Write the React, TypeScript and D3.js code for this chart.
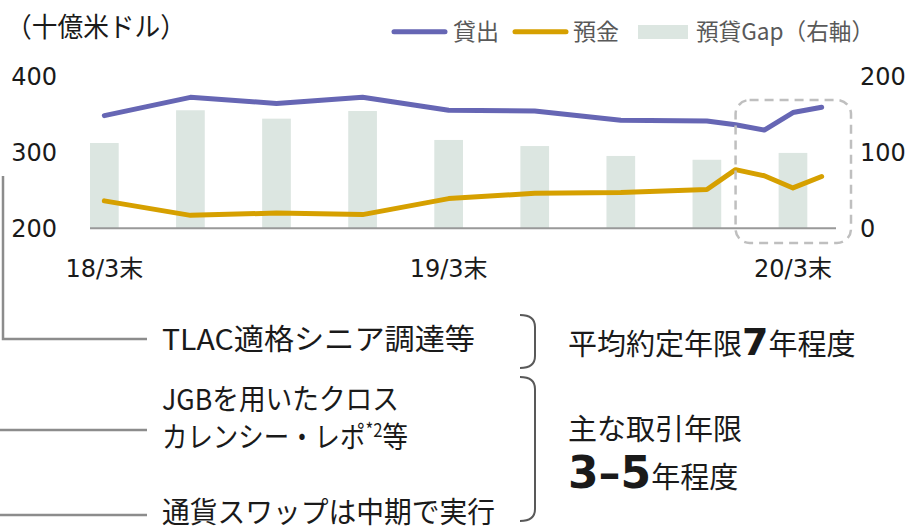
import React from 'react';
import * as d3 from 'd3';

// monthly category axis (18/3末 .. 20/4末)
const months = [
  "18/3", "18/4", "18/5", "18/6", "18/7", "18/8", "18/9", "18/10", "18/11", "18/12",
  "19/1", "19/2", "19/3", "19/4", "19/5", "19/6", "19/7", "19/8", "19/9", "19/10",
  "19/11", "19/12", "20/1", "20/2", "20/3", "20/4",
];

// line series (十億米ドル, left axis)
const lineMonths = ["18/3", "18/6", "18/9", "18/12", "19/3", "19/6", "19/9", "19/12", "20/1", "20/2", "20/3", "20/4"];
const loans = [348, 372, 364, 372, 355, 354, 342, 341, 336, 329, 352, 359];
const deposits = [236, 217, 220, 218, 239, 246, 247, 251, 277, 269, 253, 268];

// gap bars (right axis)
const gapMonths = ["18/3", "18/6", "18/9", "18/12", "19/3", "19/6", "19/9", "19/12", "20/3"];
const gaps = [112, 155, 144, 154, 116, 108, 95, 90, 99];

const leftTicks = [200, 300, 400];
const rightTicks = [0, 100, 200];
const xTickLabels = ["18/3", "19/3", "20/3"];

const W = 906;
const H = 530;
const LOAN = "#6666b4";
const DEPO = "#d6a000";
const GAP = "#dce6e1";
const JP = "'Noto Sans CJK JP', sans-serif";
const NUM = "'DejaVu Sans', 'Noto Sans CJK JP', sans-serif";
const INK = "#1a1a1a";

export default function App() {
  const x = d3.scaleBand<string>().domain(months).range([90, 836]);
  const bw = x.bandwidth();
  const yL = d3.scaleLinear().domain([200, 400]).range([228.3, 76]);
  const yR = d3.scaleLinear().domain([0, 200]).range([228.3, 76]);
  const cx = (m: string) => (x(m) ?? 0) + bw / 2;

  const line = d3
    .line<number>()
    .x((_, i) => cx(lineMonths[i]))
    .y((d) => yL(d));

  // dashed highlight box around the recent months
  const boxL = cx("20/1");
  const boxR = (x("20/4") ?? 0) + bw + 15;

  const brace = (top: number, bottom: number) =>
    `M520,${top} Q535,${top} 535,${top + 12} L535,${bottom - 12} Q535,${bottom} 520,${bottom}`;

  return (
    <svg width={W} height={H} style={{ position: 'absolute', left: 0, top: 0 }}>
      <rect width={W} height={H} fill="#fff" />

      {/* unit */}
      <text x={6} y={37} fontSize={27} fontFamily={JP} fill={INK} textLength={180} lengthAdjust="spacingAndGlyphs">（十億米ドル）</text>

      {/* legend */}
      <g fontFamily={JP} fontSize={23} fill="#595959">
        <line x1={394} x2={445} y1={31.7} y2={31.7} stroke={LOAN} strokeWidth={5} strokeLinecap="round" />
        <text x={453} y={39.5}>貸出</text>
        <line x1={515} x2={566} y1={31.7} y2={31.7} stroke={DEPO} strokeWidth={5} strokeLinecap="round" />
        <text x={573} y={39.5}>預金</text>
        <rect x={638} y={25} width={50} height={14} fill={GAP} />
        <text x={696} y={39.5} textLength={178} lengthAdjust="spacingAndGlyphs">預貸Gap（右軸）</text>
      </g>

      {/* bars */}
      {gaps.map((g, i) => (
        <rect key={gapMonths[i]} x={x(gapMonths[i])} y={yR(g)} width={bw} height={yR(0) - yR(g)} fill={GAP} />
      ))}

      {/* baseline */}
      <line x1={90} x2={836} y1={228.3} y2={228.3} stroke="#999" strokeWidth={2} />

      {/* lines */}
      <path d={line(deposits) ?? ''} fill="none" stroke={DEPO} strokeWidth={5} strokeLinejoin="round" strokeLinecap="round" />
      <path d={line(loans) ?? ''} fill="none" stroke={LOAN} strokeWidth={5} strokeLinejoin="round" strokeLinecap="round" />

      <rect x={boxL} y={100} width={boxR - boxL} height={143} rx={14} fill="none" stroke="#bfbfbf" strokeWidth={2.5} strokeDasharray="9 6" />

      {/* axes labels */}
      <g fontFamily={NUM} fontSize={24} fill={INK}>
        {leftTicks.map((t) => (
          <text key={`l${t}`} x={57} y={yL(t)} dy="0.36em" textAnchor="end">{t}</text>
        ))}
        {rightTicks.map((t) => (
          <text key={`r${t}`} x={860} y={yR(t)} dy="0.36em">{t}</text>
        ))}
        {xTickLabels.map((m) => (
          <text key={m} x={cx(m)} y={277} textAnchor="middle">{`${m}末`}</text>
        ))}
      </g>

      {/* connectors */}
      <g stroke="#8c8c8c" strokeWidth={2.5} fill="none">
        <path d="M3,176 L3,339 L147,339" />
        <line x1={0} x2={147} y1={430} y2={430} />
        <line x1={0} x2={147} y1={515} y2={515} />
      </g>

      {/* left annotations */}
      <g fontFamily={JP} fontSize={29} fill={INK}>
        <text x={162} y={350} textLength={313} lengthAdjust="spacingAndGlyphs">TLAC適格シニア調達等</text>
        <text x={162} y={410} textLength={237} lengthAdjust="spacingAndGlyphs">JGBを用いたクロス</text>
        <text x={162} y={448} textLength={246} lengthAdjust="spacingAndGlyphs">
          カレンシー・レポ<tspan fontSize={19} dy={-11}>*2</tspan><tspan dy={11}>等</tspan>
        </text>
        <text x={162} y={523} textLength={333} lengthAdjust="spacingAndGlyphs">通貨スワップは中期で実行</text>
      </g>

      {/* braces */}
      <g stroke="#595959" strokeWidth={2} fill="none">
        <path d={brace(315, 368)} />
        <path d={brace(377, 521)} />
      </g>

      {/* right annotations */}
      <g fontFamily={JP} fontSize={29} fill={INK}>
        <text x={568} y={355}>
          平均約定年限<tspan fontFamily={NUM} fontWeight="bold" fontSize={38}>7</tspan>年程度
        </text>
        <text x={568} y={440}>主な取引年限</text>
        <text x={568} y={488}>
          <tspan fontFamily={NUM} fontWeight="bold" fontSize={44}>3–5</tspan>年程度
        </text>
      </g>
    </svg>
  );
}
